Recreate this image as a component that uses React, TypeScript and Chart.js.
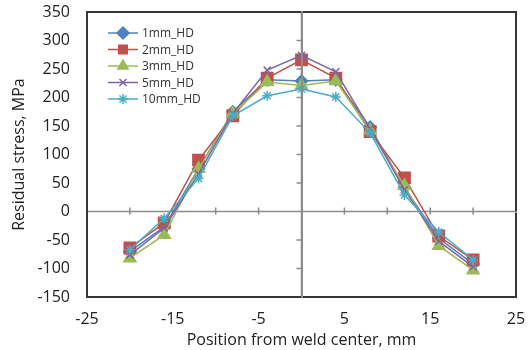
import React, { useEffect, useRef } from "react";
import { Chart, registerables } from "chart.js";
import { drawPoint } from "chart.js/helpers";

Chart.register(...registerables);

const positions = [-20, -16, -12, -8, -4, 0, 4, 8, 12, 16, 20];
const hd1mm = [-70, -27, 75, 175, 231, 229, 231, 148, 42, -47, -92];
const hd2mm = [-64, -20, 90, 168, 234, 266, 234, 140, 59, -43, -85];
const hd3mm = [-82, -41, 75, 172, 227, 221, 229, 142, 45, -60, -103];
const hd5mm = [-76, -29, 66, 172, 248, 274, 245, 145, 38, -52, -97];
const hd10mm = [-67, -12, 58, 168, 203, 215, 201, 138, 29, -36, -85];

const seriesNames = ["1mm_HD", "2mm_HD", "3mm_HD", "5mm_HD", "10mm_HD"];
const seriesValues = [hd1mm, hd2mm, hd3mm, hd5mm, hd10mm];
const seriesColors = ["#4F81BD", "#C0504D", "#9BBB59", "#8064A2", "#4BACC6"];
const seriesMarkers = ["rectRot", "rect", "triangle", "crossRot", "star"];
const seriesRadius = [6, 8, 7, 5, 5];

const xTickLabels = [-25, -15, -5, 5, 15, 25];
const xMinorTicks = [-20, -15, -10, -5, 5, 10, 15, 20];
const yTickLabels = [-150, -100, -50, 0, 50, 100, 150, 200, 250, 300, 350];

const FONT = "'Open Sans', 'Liberation Sans', sans-serif";

const framePlugin = {
  id: "frameAxes",
  beforeDatasetsDraw(chart: any) {
    const { ctx, chartArea: a, scales } = chart;
    const x = scales.x;
    const y = scales.y;
    ctx.save();
    const x0 = x.getPixelForValue(0);
    const y0 = y.getPixelForValue(0);
    ctx.strokeStyle = "#8c8c8c";
    ctx.lineWidth = 1.5;
    ctx.beginPath();
    ctx.moveTo(a.left, y0);
    ctx.lineTo(a.right, y0);
    ctx.moveTo(x0, a.top);
    ctx.lineTo(x0, a.bottom);
    for (const v of xMinorTicks) {
      const px = x.getPixelForValue(v);
      ctx.moveTo(px, y0 - 4);
      ctx.lineTo(px, y0 + 3);
    }
    for (const v of yTickLabels) {
      const py = y.getPixelForValue(v);
      ctx.moveTo(x0 - 5, py);
      ctx.lineTo(x0, py);
    }
    ctx.stroke();
    ctx.restore();
  },
  afterDraw(chart: any) {
    const { ctx, chartArea: a, scales } = chart;
    ctx.save();
    // plot-area frame
    const x0 = scales.x.getPixelForValue(0);
    const y0 = scales.y.getPixelForValue(0);
    const L = Math.round(a.left);
    const T = Math.round(a.top);
    const R = Math.round(a.right);
    const B = Math.round(a.bottom);
    ctx.fillStyle = "#363636";
    ctx.fillRect(L - 1, T - 1, R - L + 2, 2);
    ctx.fillRect(L - 1, B - 1, R - L + 2, 2);
    ctx.fillRect(L - 1, T - 1, 2, B - T + 2);
    ctx.fillRect(R - 1, T - 1, 2, B - T + 2);
    // zero axes cross the frame in grey
    ctx.fillStyle = "#8c8c8c";
    ctx.fillRect(Math.round(x0) - 1, T - 1, 2, B - T + 2);
    ctx.fillRect(R - 1, Math.round(y0) - 1, 2, 2);

    const lx = a.left + 21;
    const ly = a.top + 21;
    const step = 16.5;
    chart.data.datasets.forEach((ds: any, i: number) => {
      const yy = ly + i * step;
      ctx.strokeStyle = ds.borderColor;
      ctx.lineWidth = 1.5;
      ctx.beginPath();
      ctx.moveTo(lx, yy);
      ctx.lineTo(lx + 30, yy);
      ctx.stroke();
      ctx.fillStyle = ds.backgroundColor;
      ctx.strokeStyle = ds.borderColor;
      ctx.lineWidth = 1.5;
      drawPoint(ctx, { pointStyle: ds.pointStyle, radius: Math.min(ds.pointRadius, 6), rotation: 0, borderWidth: 1.5 }, lx + 15, yy);
      ctx.fillStyle = "#333";
      ctx.font = `12px ${FONT}`;
      ctx.textBaseline = "middle";
      ctx.textAlign = "left";
      ctx.fillText(ds.label, lx + 34, yy + 1);
    });
    ctx.restore();
  },
};

export default function App() {
  const ref = useRef<HTMLCanvasElement>(null);
  useEffect(() => {
    document.body.style.margin = "0";
    const datasets = seriesNames.map((name, i) => ({
      label: name,
      data: positions.map((p, j) => ({ x: p, y: seriesValues[i][j] })),
      borderColor: seriesColors[i],
      backgroundColor: seriesColors[i],
      pointStyle: seriesMarkers[i],
      pointRadius: seriesRadius[i],
      pointBorderWidth: 1.5,
      borderWidth: 1.5,
      showLine: true,
      order: seriesNames.length - i,
    }));
    const chart = new Chart(ref.current!, {
      type: "scatter",
      data: { datasets },
      plugins: [framePlugin],
      options: {
        animation: false,
        responsive: false,
        layout: { padding: { top: 12, right: 14, left: 0, bottom: 0 }, autoPadding: false },
        plugins: { legend: { display: false }, tooltip: { enabled: false } },
        scales: {
          x: {
            type: "linear",
            min: -25,
            max: 25,
            grid: { display: false, drawTicks: false },
            border: { display: false },
            afterBuildTicks: (s: any) => {
              s.ticks = xTickLabels.map((v) => ({ value: v }));
            },
            afterFit: (s: any) => {
              s.height = 53;
              s.paddingLeft = 0;
              s.paddingRight = 0;
            },
            ticks: { padding: 13, color: "#222", font: { family: FONT, size: 16 }, maxRotation: 0 },
            title: {
              display: true,
              text: "Position from weld center, mm",
              color: "#222",
              font: { family: FONT, size: 16 },
              padding: { top: 0, bottom: 0 },
            },
          },
          y: {
            type: "linear",
            min: -150,
            max: 350,
            grid: { display: false, drawTicks: false },
            border: { display: false },
            afterBuildTicks: (s: any) => {
              s.ticks = yTickLabels.map((v) => ({ value: v }));
            },
            afterFit: (s: any) => {
              s.width = 87;
              s.paddingTop = 0;
              s.paddingBottom = 0;
            },
            ticks: { padding: 17, color: "#222", font: { family: FONT, size: 16 } },
            title: {
              display: true,
              text: "Residual stress, MPa",
              color: "#222",
              font: { family: FONT, size: 16 },
              padding: { top: 10, bottom: 0 },
            },
          },
        },
      },
    } as any);
    return () => chart.destroy();
  }, []);
  return (
    <div style={{ width: 530, height: 350 }}>
      <canvas ref={ref} width={530} height={350} />
    </div>
  );
}
